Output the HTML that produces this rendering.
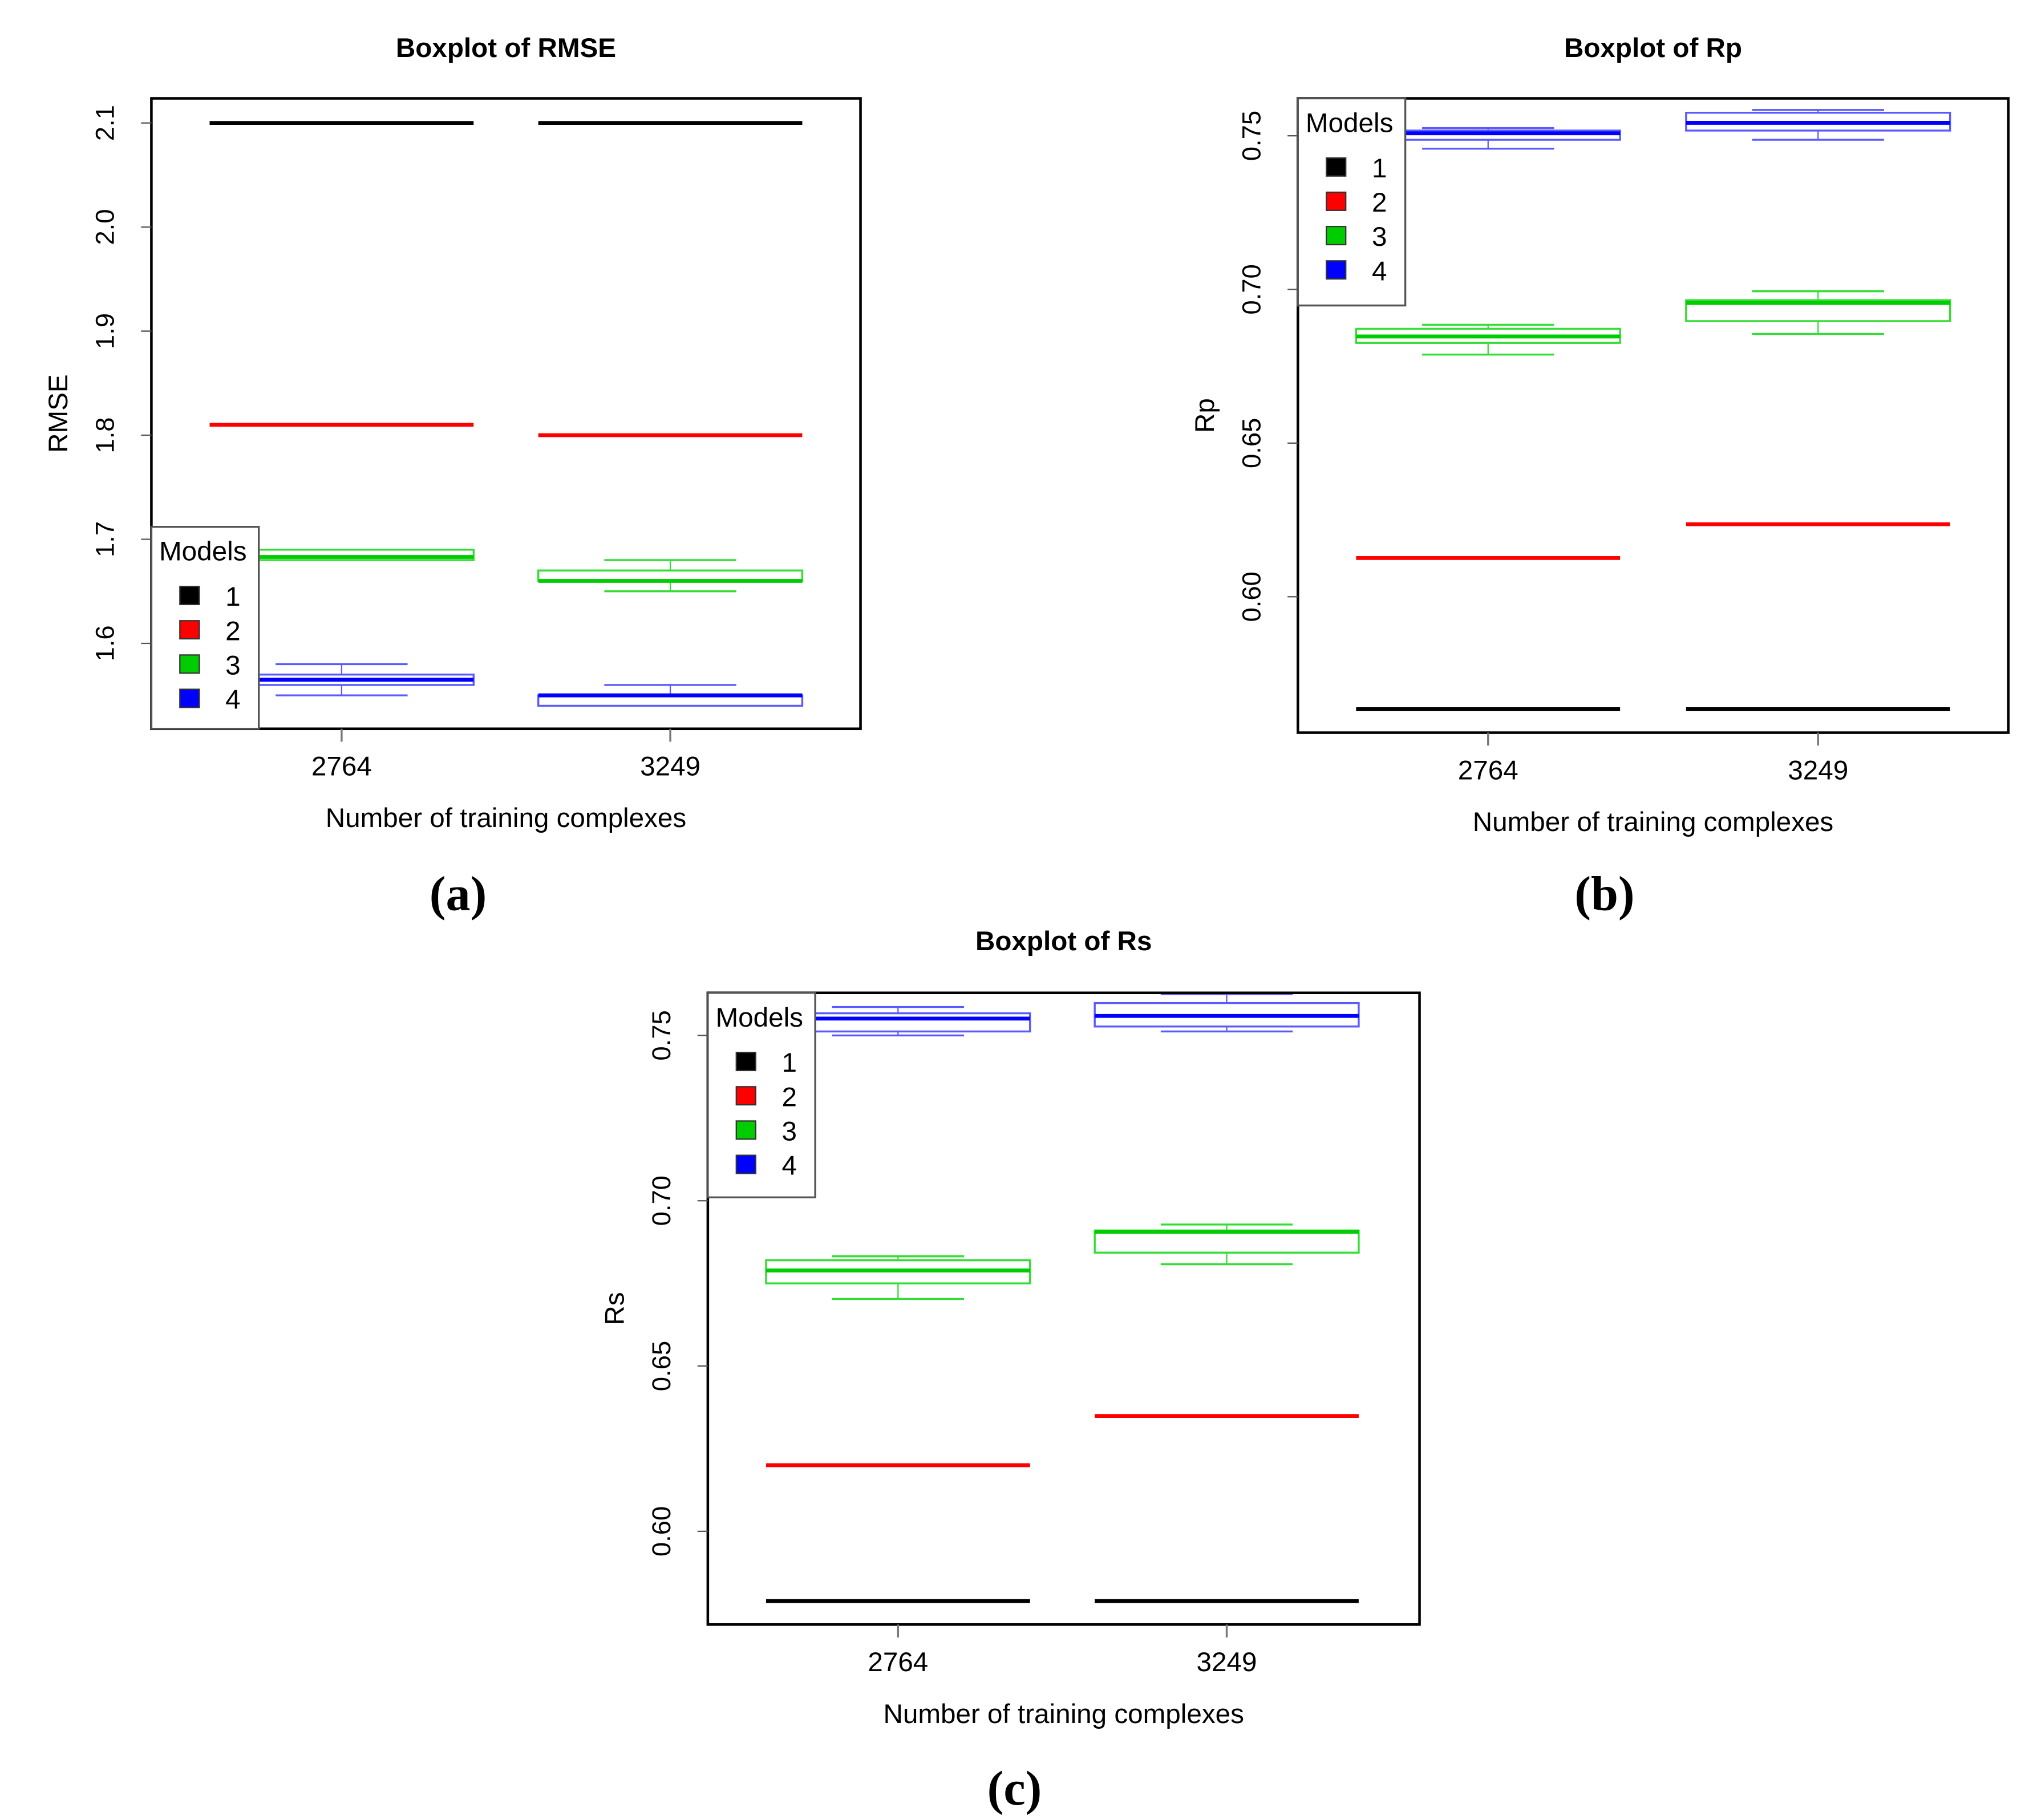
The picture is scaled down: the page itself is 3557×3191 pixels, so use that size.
<!DOCTYPE html>
<html><head><meta charset="utf-8"><style>
html,body{margin:0;padding:0;background:#fff;}
svg{display:block;}
text{font-family:"Liberation Sans",sans-serif;fill:#000;}
</style></head><body>
<svg id="fig" xmlns="http://www.w3.org/2000/svg" width="3557" height="3191" viewBox="0 0 1568 1406" preserveAspectRatio="none"></svg>
<script>
// ---- data ----
const categories = ["2764", "3249"];
const modelNames = ["1", "2", "3", "4"];
const modelColors = ["#000000", "#ff0000", "#00cd00", "#0000ff"];
// [whiskerLow, q1, median, q3, whiskerHigh] per model per category
const rmseM1 = [[2.1,2.1,2.1,2.1,2.1],[2.1,2.1,2.1,2.1,2.1]];
const rmseM2 = [[1.81,1.81,1.81,1.81,1.81],[1.80,1.80,1.80,1.80,1.80]];
const rmseM3 = [[1.68,1.68,1.683,1.69,1.69],[1.65,1.66,1.66,1.67,1.68]];
const rmseM4 = [[1.55,1.56,1.565,1.57,1.58],[1.54,1.54,1.55,1.55,1.56]];
const rpM1 = [[0.5634,0.5634,0.5634,0.5634,0.5634],[0.5634,0.5634,0.5634,0.5634,0.5634]];
const rpM2 = [[0.6126,0.6126,0.6126,0.6126,0.6126],[0.6236,0.6236,0.6236,0.6236,0.6236]];
const rpM3 = [[0.6788,0.6826,0.6847,0.6872,0.6885],[0.6855,0.6897,0.6956,0.6965,0.6994]];
const rpM4 = [[0.7458,0.7487,0.7508,0.7517,0.7525],[0.7487,0.7517,0.7542,0.7575,0.7584]];
const rsM1 = [[0.5789,0.5789,0.5789,0.5789,0.5789],[0.5789,0.5789,0.5789,0.5789,0.5789]];
const rsM2 = [[0.6200,0.6200,0.6200,0.6200,0.6200],[0.6349,0.6349,0.6349,0.6349,0.6349]];
const rsM3 = [[0.6703,0.6750,0.6789,0.6820,0.6832],[0.6808,0.6843,0.6906,0.6910,0.6928]];
const rsM4 = [[0.7500,0.7512,0.7551,0.7567,0.7586],[0.7512,0.7527,0.7559,0.7598,0.7625]];
const rmseTicks = [1.6,1.7,1.8,1.9,2.0,2.1];
const rmseTickLabels = ["1.6","1.7","1.8","1.9","2.0","2.1"];
const rTicks = [0.60,0.65,0.70,0.75];
const rTickLabels = ["0.60","0.65","0.70","0.75"];

const NS = "http://www.w3.org/2000/svg";
const svg = document.getElementById('fig');
function mk(tag, attrs, parent, txt){
  const e = document.createElementNS(NS, tag);
  for (const k in attrs) e.setAttribute(k, attrs[k]);
  if (txt !== undefined) e.textContent = txt;
  (parent||svg).appendChild(e);
  return e;
}
const light = ["#000000","#ff0000","#33dd33","#5a5aff"];

function panel(cfg){
  const g = mk('g', {});
  
  
  const {x0,x1,y0,y1,vmin,vmax} = cfg;
  const ys = v => y1 - (v - vmin) / (vmax - vmin) * (y1 - y0);
  const xs = i => cfg.cx[i];
  const t = mk('text', {x:(x0+x1)/2, y:cfg.titleY, 'text-anchor':'middle', 'font-size':21, 'font-weight':'bold'}, g, cfg.title);
  
  
  cfg.series.forEach((ser, m) => {
    ser.forEach((d, i) => {
      const bg = mk('g', {}, g);
      
      
      const c = xs(i), hw = 102, cw = 51;
      const col = modelColors[m], lc = light[m];
      mk('line', {x1:c, x2:c, y1:ys(d[0]), y2:ys(d[1]), stroke:lc, 'stroke-width':1}, bg);
      mk('line', {x1:c, x2:c, y1:ys(d[3]), y2:ys(d[4]), stroke:lc, 'stroke-width':1}, bg);
      if (d[0] !== d[1]) mk('line', {x1:c-cw, x2:c+cw, y1:ys(d[0]), y2:ys(d[0]), stroke:lc, 'stroke-width':1.5}, bg);
      if (d[4] !== d[3]) mk('line', {x1:c-cw, x2:c+cw, y1:ys(d[4]), y2:ys(d[4]), stroke:lc, 'stroke-width':1.5}, bg);
      mk('rect', {x:c-hw, y:ys(d[3]), width:2*hw, height:Math.max(0, ys(d[1])-ys(d[3])), fill:'none', stroke:lc, 'stroke-width':1.5}, bg);
      mk('line', {x1:c-hw, x2:c+hw, y1:ys(d[2]), y2:ys(d[2]), stroke:col, 'stroke-width':3}, bg);
    });
  });
  const fr = mk('rect', {x:x0, y:y0, width:x1-x0, height:y1-y0, fill:'none', stroke:'#000', 'stroke-width':2}, g);
  
  
  cfg.ticks.forEach((v, k) => {
    const y = ys(v);
    mk('line', {x1:x0-8, x2:x0, y1:y, y2:y, stroke:'#555', 'stroke-width':1}, g);
    const tl = mk('text', {x:0, y:0, 'text-anchor':'middle', 'font-size':20, transform:`translate(${x0-29},${y}) rotate(-90)`}, g, cfg.tickLabels[k]);
    
    
  });
  categories.forEach((c, i) => {
    mk('line', {x1:xs(i), x2:xs(i), y1:y1, y2:y1+10, stroke:'#777', 'stroke-width':1.5}, g);
    const xl = mk('text', {x:xs(i), y:y1+36, 'text-anchor':'middle', 'font-size':21}, g, c);
    
    
  });
  const xt = mk('text', {x:(x0+x1)/2, y:y1+76, 'text-anchor':'middle', 'font-size':21}, g, 'Number of training complexes');
  
  
  const yt = mk('text', {x:0, y:0, 'text-anchor':'middle', 'font-size':21, transform:`translate(${x0-65},${(y0+y1)/2-(cfg.yTitleShift||0)}) rotate(-90)`}, g, cfg.yTitle);
  
  
  const L = cfg.legend;
  const lg = mk('g', {}, g);
  
  
  mk('rect', {x:L.x, y:L.y, width:83, height:L.h, fill:'#fff', stroke:'#555', 'stroke-width':1.5}, lg);
  mk('text', {x:L.x+6, y:L.y+26, 'font-size':21}, lg, 'Models');
  modelNames.forEach((nm, m) => {
    const yy = L.y + 53 + m*26.5;
    const le = mk('g', {}, lg);
    
    
    mk('rect', {x:L.x+22, y:yy-7, width:15, height:14, fill:modelColors[m], stroke:'#333', 'stroke-width':1}, le);
    mk('text', {x:L.x+63, y:yy+8, 'text-anchor':'middle', 'font-size':21}, le, nm);
  });
  const cap = mk('text', {x:cfg.capX, y:cfg.capY, 'text-anchor':'middle', 'font-size':38, 'font-weight':'bold', style:'font-family:"Liberation Serif",serif'}, g, cfg.caption);
  
  
}

panel({name:'panel-rmse', title:'Boxplot of RMSE', titleY:44, x0:117, x1:665, y0:76, y1:563,
  vmin:1.6-(563-497)/804, vmax:1.6+(497-76)/804, cx:[264,518],
  series:[rmseM1,rmseM2,rmseM3,rmseM4], ticks:rmseTicks, tickLabels:rmseTickLabels, yTitle:'RMSE', yTitleShift:0,
  legend:{x:117,y:407,h:156}, caption:'(a)', capX:354, capY:703});
panel({name:'panel-rp', title:'Boxplot of Rp', titleY:44, x0:1003, x1:1552, y0:76, y1:566,
  vmin:0.60-(566-461)/2374, vmax:0.60+(461-76)/2374, cx:[1150,1405],
  series:[rpM1,rpM2,rpM3,rpM4], ticks:rTicks, tickLabels:rTickLabels, yTitle:'Rp', yTitleShift:0,
  legend:{x:1003,y:76,h:160}, caption:'(b)', capX:1240, capY:703});
panel({name:'panel-rs', title:'Boxplot of Rs', titleY:734, x0:547, x1:1097, y0:767, y1:1255,
  vmin:0.60-(1255-1183)/2554, vmax:0.60+(1183-767)/2554, cx:[694,948],
  series:[rsM1,rsM2,rsM3,rsM4], ticks:rTicks, tickLabels:rTickLabels, yTitle:'Rs', yTitleShift:0,
  legend:{x:547,y:767,h:158}, caption:'(c)', capX:784, capY:1394});
</script>
</body></html>
